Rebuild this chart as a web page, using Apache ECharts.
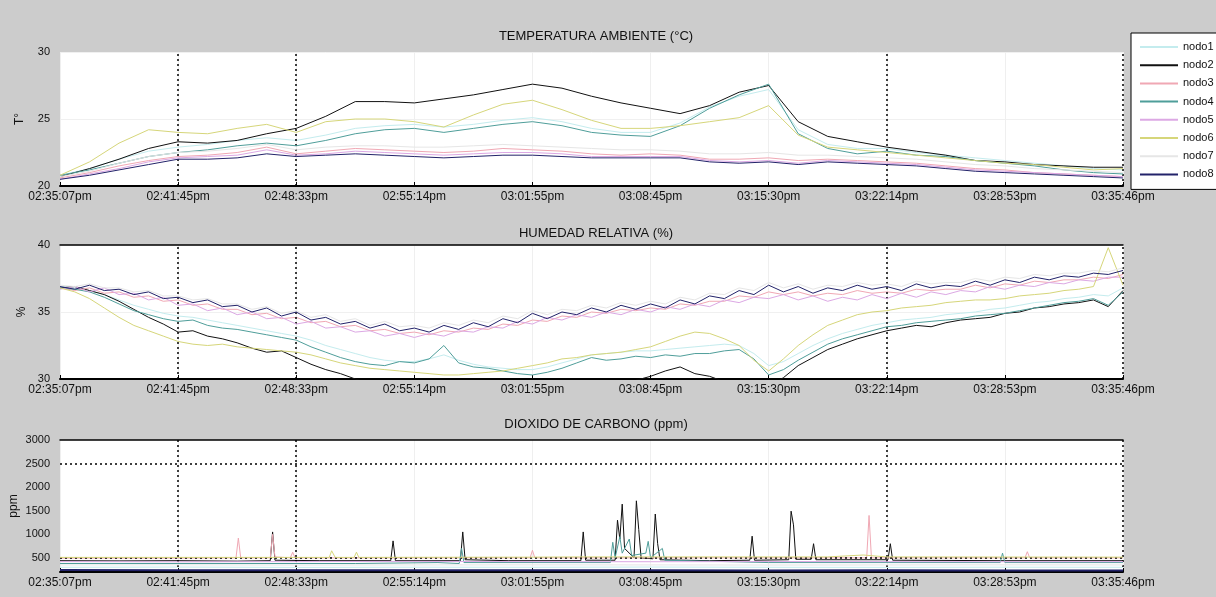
<!DOCTYPE html>
<html><head><meta charset="utf-8">
<script src="https://cdn.jsdelivr.net/npm/echarts@6/dist/echarts.min.js"></script>
<style>html,body{margin:0;padding:0;background:#cccccc;}#c{width:1216px;height:597px;}</style>
</head><body><div id="c"></div>
<script>
// ---------- DATA ----------
const tickLabels = ['02:35:07pm','02:41:45pm','02:48:33pm','02:55:14pm','03:01:55pm','03:08:45pm','03:15:30pm','03:22:14pm','03:28:53pm','03:35:46pm'];
const nodes = ['nodo1','nodo2','nodo3','nodo4','nodo5','nodo6','nodo7','nodo8'];

// sample positions (in tick units) for temperature
const tempX = [0,0.25,0.5,0.75,1,1.25,1.5,1.75,2,2.25,2.5,2.75,3,3.25,3.5,3.75,4,4.25,4.5,4.75,5,5.25,5.5,5.75,6,6.25,6.5,6.75,7,7.25,7.5,7.75,8,8.25,8.5,8.75,9];
const temp_nodo1 = [20.8,21.3,22.0,22.6,22.9,23.1,23.4,23.6,23.4,23.8,24.3,24.5,24.6,24.4,24.6,24.9,25.1,24.8,24.3,24.0,24.0,24.7,25.9,26.7,27.2,24.2,23.1,22.8,22.8,22.5,22.3,22.1,21.9,21.7,21.5,21.3,21.2];
const temp_nodo2 = [20.7,21.3,22.0,22.8,23.3,23.2,23.4,23.9,24.3,25.2,26.3,26.3,26.2,26.5,26.8,27.2,27.6,27.3,26.7,26.2,25.8,25.4,26.0,27.0,27.5,24.8,23.7,23.3,22.9,22.6,22.3,21.9,21.8,21.6,21.5,21.4,21.4];
const temp_nodo3 = [20.6,21.0,21.5,21.9,22.2,22.3,22.5,22.9,22.4,22.6,22.8,22.7,22.6,22.5,22.6,22.8,22.7,22.6,22.4,22.3,22.4,22.3,22.0,22.0,22.1,21.9,22.0,21.9,21.8,21.7,21.5,21.3,21.2,21.0,20.9,20.8,20.7];
const temp_nodo4 = [20.8,21.2,21.7,22.2,22.5,22.7,23.0,23.2,23.0,23.4,23.9,24.2,24.3,24.0,24.3,24.6,24.8,24.5,24.0,23.8,23.7,24.5,25.8,26.8,27.6,23.9,22.8,22.4,22.6,22.3,22.2,21.9,21.7,21.5,21.2,21.0,20.9];
const temp_nodo5 = [20.5,20.9,21.3,21.8,22.1,22.2,22.3,22.7,22.3,22.4,22.6,22.5,22.4,22.3,22.4,22.5,22.5,22.4,22.2,22.2,22.2,22.2,21.9,21.8,21.9,21.7,21.9,21.8,21.7,21.6,21.4,21.2,21.1,21.0,20.9,20.8,20.7];
const temp_nodo6 = [20.8,21.8,23.2,24.2,24.0,23.9,24.3,24.6,24.0,24.8,25.0,25.0,24.8,24.4,25.3,26.1,26.4,25.7,24.9,24.3,24.3,24.5,24.8,25.1,26.0,23.8,22.9,22.7,22.5,22.3,22.1,21.9,21.7,21.6,21.4,21.2,21.3];
const temp_nodo7 = [20.7,21.1,21.7,22.2,22.5,22.6,22.8,23.1,22.7,22.9,23.0,23.0,22.9,22.9,23.0,23.1,23.0,22.9,22.8,22.7,22.7,22.6,22.4,22.4,22.5,22.3,22.3,22.2,22.1,22.0,21.8,21.6,21.5,21.3,21.2,21.1,21.0];
const temp_nodo8 = [20.5,20.8,21.2,21.6,22.0,22.0,22.1,22.4,22.2,22.3,22.4,22.3,22.2,22.1,22.2,22.3,22.3,22.2,22.1,22.1,22.1,22.1,21.8,21.7,21.8,21.6,21.8,21.7,21.6,21.5,21.3,21.1,21.0,20.9,20.8,20.7,20.6];

// sample positions for humidity
const humX = [0,0.125,0.25,0.375,0.5,0.625,0.75,0.875,1,1.125,1.25,1.375,1.5,1.625,1.75,1.875,2,2.125,2.25,2.375,2.5,2.625,2.75,2.875,3,3.125,3.25,3.375,3.5,3.625,3.75,3.875,4,4.125,4.25,4.375,4.5,4.625,4.75,4.875,5,5.125,5.25,5.375,5.5,5.625,5.75,5.875,6,6.125,6.25,6.375,6.5,6.625,6.75,6.875,7,7.125,7.25,7.375,7.5,7.625,7.75,7.875,8,8.125,8.25,8.375,8.5,8.625,8.75,8.875,9];
const hum_nodo1 = [36.9,36.8,36.6,36.3,35.9,35.5,35.2,34.9,34.7,34.6,34.4,34.2,34.0,33.8,33.6,33.4,33.2,32.9,32.5,32.2,31.9,31.6,31.4,31.3,31.3,31.5,31.8,31.4,31.1,30.9,30.8,30.7,30.7,30.9,31.2,31.5,31.8,31.9,32.0,32.1,32.1,32.2,32.3,32.4,32.5,32.6,32.5,31.9,31.0,31.3,31.9,32.5,33.0,33.4,33.7,34.0,34.2,34.4,34.5,34.6,34.8,34.9,35.0,35.2,35.3,35.5,35.7,35.8,36.0,36.1,36.3,36.2,36.8];
const hum_nodo2 = [36.8,36.9,36.6,36.3,35.8,35.2,34.6,34.1,33.5,33.6,33.2,33.0,32.7,32.3,32.0,32.1,31.6,31.1,30.7,30.4,30.0,29.7,29.5,29.3,29.1,29.0,28.9,28.8,28.7,28.8,28.9,28.7,28.8,29.0,29.1,29.3,29.4,29.6,29.7,29.9,30.2,30.6,30.9,30.4,30.2,29.8,29.5,29.3,29.4,30.1,31.0,31.6,32.2,32.6,33.0,33.3,33.6,33.8,34.0,33.9,34.2,34.4,34.5,34.6,34.9,35.0,35.3,35.4,35.6,35.7,35.9,35.4,36.6];
const hum_nodo3 = [36.8,36.6,36.8,36.4,36.5,36.1,36.2,35.8,35.9,35.5,35.6,35.2,35.2,34.8,34.9,34.5,34.6,34.2,34.3,33.9,34.0,33.6,33.7,33.4,33.5,33.3,33.6,33.5,33.8,33.7,34.1,34.0,34.4,34.3,34.7,34.6,35.0,34.9,35.2,35.1,35.3,35.2,35.6,35.5,35.8,35.8,36.2,36.1,36.5,36.3,36.5,36.2,36.4,36.3,36.6,36.4,36.5,36.4,36.7,36.6,36.7,36.7,37.0,36.8,37.1,37.0,37.3,37.2,37.4,37.4,37.6,37.5,37.8];
const hum_nodo4 = [36.8,36.7,36.5,36.1,35.6,35.1,34.8,34.5,34.3,34.4,34.0,33.8,33.7,33.5,33.3,33.1,32.9,32.4,32.0,31.6,31.3,31.1,31.0,31.3,31.2,31.5,32.5,31.2,30.9,30.8,30.6,30.4,30.3,30.5,30.8,31.2,31.6,31.4,31.5,31.7,31.6,31.8,31.7,31.9,31.9,32.1,32.2,31.5,30.3,30.7,31.4,32.0,32.6,33.0,33.3,33.6,33.9,34.0,34.2,34.3,34.4,34.5,34.7,34.8,34.9,35.1,35.3,35.5,35.7,35.8,36.0,35.5,36.5];
const hum_nodo5 = [36.7,36.9,36.5,36.8,36.3,36.4,35.9,36.1,35.5,35.6,35.1,35.3,34.8,35.0,34.5,34.6,34.1,34.3,33.8,33.9,33.5,33.6,33.2,33.4,33.1,33.4,33.2,33.6,33.5,33.9,33.8,34.3,34.1,34.6,34.4,34.8,34.6,35.0,34.8,35.2,35.0,35.4,35.2,35.6,35.4,35.9,35.7,36.1,36.0,36.3,35.9,36.2,35.8,36.1,35.9,36.3,36.0,36.4,36.1,36.5,36.3,36.6,36.5,36.9,36.7,37.0,36.9,37.2,37.1,37.4,37.3,37.6,37.6];
const hum_nodo6 = [36.8,36.5,36.0,35.3,34.6,34.0,33.6,33.2,32.8,32.6,32.5,32.6,32.4,32.3,32.2,32.1,32.0,31.8,31.5,31.2,31.0,30.8,30.7,30.6,30.5,30.4,30.3,30.3,30.4,30.5,30.6,30.8,31.0,31.2,31.5,31.6,31.8,31.9,32.0,32.2,32.4,32.8,33.2,33.5,33.4,33.0,32.5,31.4,30.6,31.5,32.5,33.3,34.0,34.4,34.8,35.0,35.1,35.3,35.4,35.5,35.7,35.8,35.9,35.9,36.0,36.2,36.3,36.4,36.6,36.7,36.9,39.8,37.0];
const hum_nodo7 = [37.0,36.9,37.1,36.8,36.8,36.5,36.6,36.2,36.2,35.9,36.0,35.6,35.6,35.2,35.4,34.9,35.1,34.6,34.8,34.3,34.5,34.0,34.3,33.9,34.0,33.8,34.2,34.0,34.4,34.2,34.7,34.5,35.1,34.8,35.2,35.1,35.5,35.3,35.7,35.5,35.8,35.6,36.1,35.9,36.4,36.3,36.8,36.6,37.2,36.8,37.1,36.7,37.0,36.9,37.2,37.0,37.1,36.9,37.3,37.1,37.2,37.2,37.5,37.3,37.6,37.5,37.8,37.7,37.9,37.9,38.1,38.0,38.3];
const hum_nodo8 = [36.9,36.7,37.0,36.6,36.7,36.3,36.5,36.0,36.1,35.7,35.9,35.4,35.5,35.0,35.3,34.7,35.0,34.4,34.6,34.1,34.3,33.8,34.1,33.6,33.8,33.5,34.0,33.7,34.2,33.9,34.5,34.2,34.9,34.5,35.0,34.8,35.3,35.0,35.5,35.2,35.6,35.3,35.9,35.6,36.2,36.0,36.6,36.3,37.0,36.5,36.9,36.4,36.8,36.6,37.0,36.7,36.9,36.6,37.1,36.8,37.0,36.9,37.3,37.0,37.4,37.2,37.6,37.4,37.7,37.6,37.9,37.8,38.1];

// CO2 samples as [position, ppm]
const co2_nodo1 = [[0,300],[1,305],[2,298],[3,302],[4,300],[5,305],[6,300],[7,298],[8,302],[9,300]];
const co2_nodo2 = [[0,440],[0.5,435],[1,440],[1.5,430],[1.78,440],[1.8,1050],[1.82,450],[2.2,440],[2.8,440],[2.82,860],[2.84,440],[3.39,440],[3.41,1050],[3.43,460],[3.8,440],[4.41,440],[4.43,1050],[4.45,450],[4.70,450],[4.72,1300],[4.74,900],[4.76,1640],[4.78,700],[4.86,500],[4.88,1710],[4.90,1100],[4.92,500],[5.02,480],[5.04,1430],[5.06,800],[5.08,460],[5.5,440],[5.84,450],[5.86,960],[5.88,450],[6.17,460],[6.19,1490],[6.21,1200],[6.23,470],[6.36,470],[6.38,800],[6.40,460],[7.01,460],[7.03,800],[7.05,450],[8,440],[9,440]];
const co2_nodo3 = [[0,495],[1,495],[1.49,500],[1.51,920],[1.53,500],[1.78,500],[1.80,1000],[1.82,520],[1.95,500],[1.97,620],[1.99,500],[2.3,500],[3.98,500],[4.00,660],[4.02,500],[5,500],[6.83,500],[6.85,1400],[6.87,500],[8.17,500],[8.19,630],[8.21,500],[9,500]];
const co2_nodo4 = [[0,380],[2.5,380],[3.2,400],[3.38,380],[3.40,700],[3.42,400],[4.66,400],[4.68,830],[4.70,500],[4.74,950],[4.76,600],[4.82,900],[4.84,550],[4.96,600],[4.98,850],[5.00,500],[5.10,700],[5.12,450],[6,400],[7.96,400],[7.98,600],[8.00,400],[9,400]];
const co2_nodo5 = [[0,420],[1,415],[2,420],[3,425],[4,420],[5,418],[6,422],[7,420],[8,418],[9,420]];
const co2_nodo6 = [[0,510],[2.28,510],[2.30,650],[2.33,510],[2.49,510],[2.51,620],[2.53,510],[4,515],[4.4,520],[6.5,520],[6.8,560],[7,520],[9,515]];
const co2_nodo7 = [[0,350],[1,352],[2,348],[3,350],[4,352],[5,350],[6,348],[7,350],[8,352],[9,350]];
const co2_nodo8 = [[0,240],[1,238],[2,236],[3,238],[4,235],[5,236],[6,234],[7,235],[8,233],[9,234]];

// ---------- STYLE ----------
const colors = ['#c4ecee','#111111','#f0a8b4','#4f9e9a','#dca8e4','#d6d67a','#e6e6e6','#23236a'];
const FONT = 'Liberation Sans, Arial, sans-serif';

const tempData = [temp_nodo1,temp_nodo2,temp_nodo3,temp_nodo4,temp_nodo5,temp_nodo6,temp_nodo7,temp_nodo8];
const humData = [hum_nodo1,hum_nodo2,hum_nodo3,hum_nodo4,hum_nodo5,hum_nodo6,hum_nodo7,hum_nodo8];
const co2Data = [co2_nodo1,co2_nodo2,co2_nodo3,co2_nodo4,co2_nodo5,co2_nodo6,co2_nodo7,co2_nodo8];

const chart = echarts.init(document.getElementById('c'));

function bottomX(g){
  return {type:'value', gridIndex:g, min:0, max:9, interval:1,
    axisLabel:{formatter:v=>tickLabels[Math.round(v)]||'', fontSize:12, color:'#111', margin:5, fontFamily:FONT},
    axisLine:{show:true, onZero:false, lineStyle:{color:'#000', width:2}},
    axisTick:{show:true, inside:true, length:4, lineStyle:{color:'#000'}},
    splitLine:{show:true, lineStyle:{color:'#efefef', width:1}}};
}
function topX(g){
  return {type:'value', gridIndex:g, position:'top', min:0, max:9,
    axisLine:{show:true, onZero:false, lineStyle:{color:'#000', width:1.5}},
    axisLabel:{show:false}, axisTick:{show:false}, splitLine:{show:false}};
}
function yAx(g, min, max, interval, name, gap, fmt){
  return {type:'value', gridIndex:g, min, max, interval, name, nameLocation:'middle', nameGap:gap,
    nameMoveOverlap:false,
    nameTextStyle:{fontSize:12, color:'#111', fontFamily:FONT},
    axisLine:{show:false}, axisTick:{show:false},
    axisLabel:{fontSize:11, color:'#111', margin:10, fontFamily:FONT, formatter:fmt},
    splitLine:{show:g!==2, lineStyle:{color:'#f0f0f0'}}};
}

const series = [];
nodes.forEach((n,i)=>{
  const c = colors[i];
  series.push({name:n, type:'line', xAxisIndex:0, yAxisIndex:0, showSymbol:false, symbol:'none',
    data: tempX.map((x,j)=>[x, tempData[i][j]]), lineStyle:{color:c, width:1}, itemStyle:{color:c}, z:2+i});
  series.push({name:n, type:'line', xAxisIndex:1, yAxisIndex:1, showSymbol:false, symbol:'none',
    data: humX.map((x,j)=>[x, humData[i][j]]), lineStyle:{color:c, width:1}, itemStyle:{color:c}, z:2+i});
  series.push({name:n, type:'line', xAxisIndex:2, yAxisIndex:2, showSymbol:false, symbol:'none',
    data: co2Data[i], lineStyle:{color:c, width:(i===7?2:1)}, itemStyle:{color:c}, z:2+i});
});
const vLines = [{xAxis:1},{xAxis:2},{xAxis:7},{xAxis:9}];
[0,1,2].forEach(g=>{
  const extra = g===2 ? [{yAxis:2500},{yAxis:500}] : [];
  series.push({type:'line', name:'_grid'+g, xAxisIndex:g, yAxisIndex:g, data:[], silent:true, z:20,
    markLine:{silent:true, symbol:'none', label:{show:false}, animation:false,
      lineStyle:{color:'#000', type:[2,3], width:1.5}, data: vLines.concat(extra)}});
});

const gridBase = {width:1063, show:true, backgroundColor:'#fff', borderWidth:0, containLabel:false, outerBoundsMode:'none'};
chart.setOption({
  animation:false,
  backgroundColor:'#cccccc',
  textStyle:{fontFamily:FONT},
  title:[
    {text:'TEMPERATURA AMBIENTE (°C)', left:591, textAlign:'center', top:25, textStyle:{fontSize:13, fontWeight:'normal', color:'#111', fontFamily:FONT}},
    {text:'HUMEDAD RELATIVA (%)', left:591, textAlign:'center', top:222, textStyle:{fontSize:13, fontWeight:'normal', color:'#111', fontFamily:FONT}},
    {text:'DIOXIDO DE CARBONO (ppm)', left:591, textAlign:'center', top:413, textStyle:{fontSize:13, fontWeight:'normal', color:'#111', fontFamily:FONT}}
  ],
  legend:{data:nodes, orient:'vertical', left:1131, top:33, backgroundColor:'#fff', borderColor:'#000', borderWidth:1,
    padding:[8,40,9,9], itemWidth:38, itemHeight:2, itemGap:6.2, icon:'rect',
    textStyle:{fontSize:11, lineHeight:12, color:'#111', fontFamily:FONT}},
  grid:[
    Object.assign({left:60, top:52, height:134}, gridBase),
    Object.assign({left:60, top:245, height:134}, gridBase),
    Object.assign({left:60, top:440, height:132}, gridBase)
  ],
  xAxis:[bottomX(0), bottomX(1), bottomX(2), topX(1), topX(2)],
  yAxis:[
    yAx(0, 20, 30, 5, 'T°', 34),
    yAx(1, 30, 40, 5, '%', 32),
    yAx(2, 200, 3000, 100, 'ppm', 40, v => (v % 500 === 0 ? String(v) : ''))
  ],
  series
});
</script></body></html>
